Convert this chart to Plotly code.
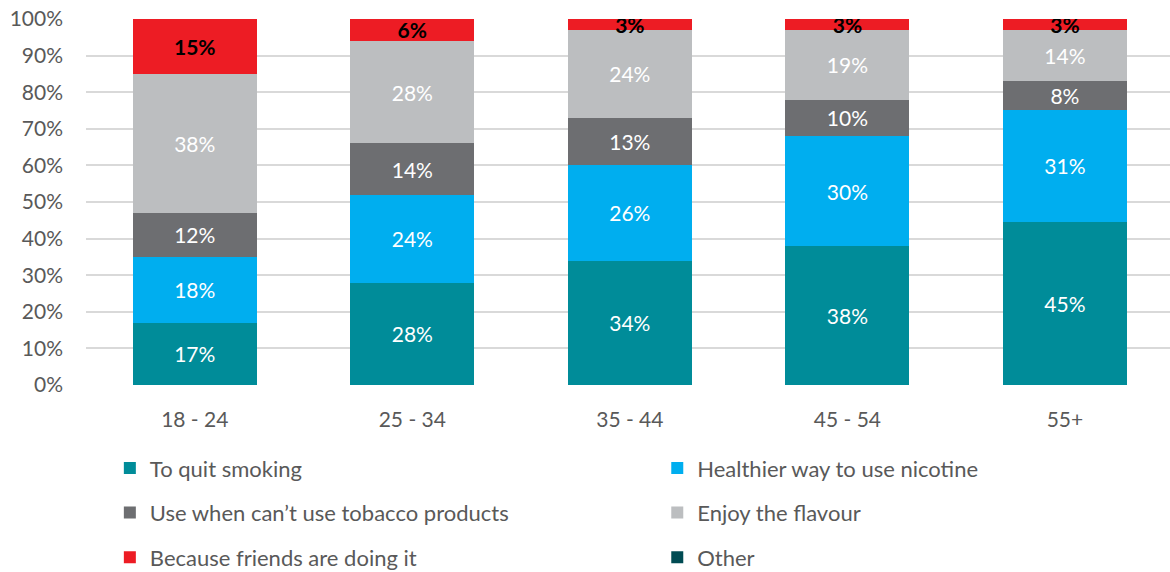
import plotly.graph_objects as go

# Age groups and the share of each reason (per cent, 100% stacked)
age_groups = ["18 - 24", "25 - 34", "35 - 44", "45 - 54", "55+"]

quit_smoking = [17, 28, 34, 38, 45]
healthier_nicotine = [18, 24, 26, 30, 31]
cant_use_tobacco = [12, 14, 13, 10, 8]
enjoy_flavour = [38, 28, 24, 19, 14]
friends_doing_it = [15, 6, 3, 3, 3]
other = [0, 0, 0, 0, 0]

# name, values, fill, label colour, bold label, legend column
series = [
    ("To quit smoking", quit_smoking, "#008C99", "white", False, "legend"),
    ("Healthier way to use nicotine", healthier_nicotine, "#00AEEF", "white", False, "legend2"),
    ("Use when can\u2019t use tobacco products", cant_use_tobacco, "#6D6E71", "white", False, "legend"),
    ("Enjoy the flavour", enjoy_flavour, "#BCBEC0", "white", False, "legend2"),
    ("Because friends are doing it", friends_doing_it, "#ED1C24", "black", True, "legend"),
    ("Other", other, "#004B53", "white", False, "legend2"),
]

FONT = "Lato"
TXT = "#595959"
FS = 21
LEG_FS = 22

fig = go.Figure()
for name, vals, color, tcolor, bold, leg in series:
    labels = [(f"<b>{v}%</b>" if bold else f"{v}%") if v > 0 else "" for v in vals]
    fig.add_trace(go.Bar(
        name=name,
        x=age_groups,
        y=vals,
        marker=dict(color=color, line=dict(width=0)),
        text=labels,
        textposition="inside",
        insidetextanchor="middle",
        constraintext="none",
        textangle=0,
        textfont=dict(family=FONT, size=FS, color=tcolor),
        legend=leg,
        legendgroup=name,
        hoverinfo="skip",
    ))

legend_common = dict(
    orientation="v",
    traceorder="grouped",
    xanchor="left",
    yanchor="top",
    y=-0.17,
    tracegroupgap=13,
    font=dict(family=FONT, size=LEG_FS, color=TXT),
    bgcolor="rgba(0,0,0,0)",
    itemclick=False,
)

fig.update_layout(
    barmode="stack",
    barnorm="percent",
    bargap=0.43,
    width=1170,
    height=572,
    margin=dict(l=86, r=0, t=19, b=187, autoexpand=False),
    paper_bgcolor="white",
    plot_bgcolor="white",
    font=dict(family=FONT, color=TXT),
    showlegend=True,
    legend=dict(legend_common, x=0.022),
    legend2=dict(legend_common, x=0.527),
    xaxis=dict(
        range=[-0.5, 4.483],
        showgrid=False,
        showline=False,
        ticks="",
        ticklabelstandoff=20,
        tickfont=dict(family=FONT, size=FS, color=TXT),
    ),
    yaxis=dict(
        range=[0, 100],
        tickvals=[0, 10, 20, 30, 40, 50, 60, 70, 80, 90, 100],
        ticktext=[f"{v}%" for v in range(0, 101, 10)],
        showgrid=True,
        gridcolor="#D9D9D9",
        gridwidth=1.5,
        zeroline=False,
        showline=False,
        ticks="",
        ticklabelstandoff=22,
        tickfont=dict(family=FONT, size=FS, color=TXT),
    ),
)

fig.write_html("out.html")
